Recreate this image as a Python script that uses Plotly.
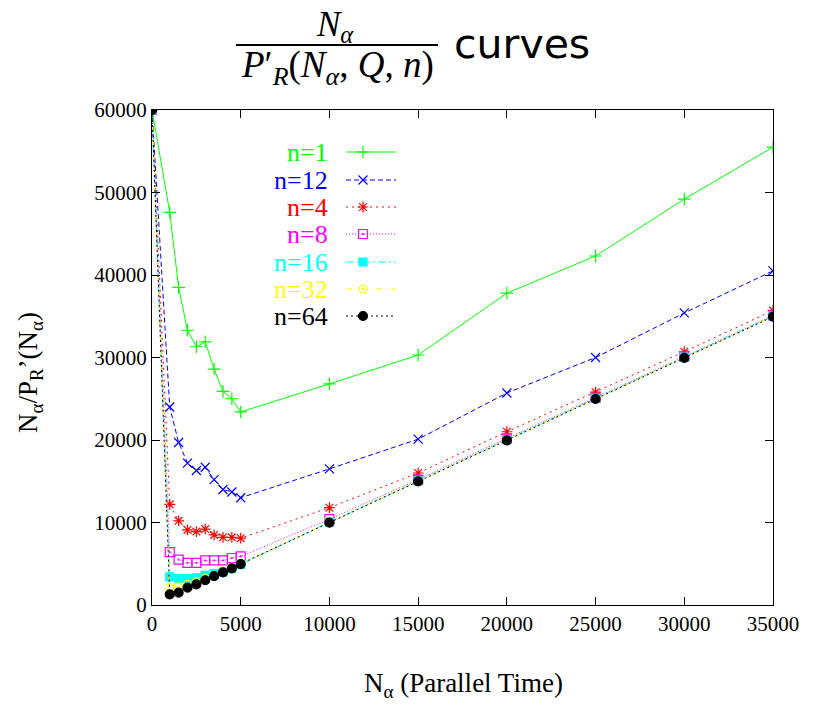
import plotly.graph_objects as go

# ---------------- data ----------------
N_alpha = [1, 1000, 1500, 2000, 2500, 3000, 3500, 4000, 4500, 5000,
           10000, 15000, 20000, 25000, 30000, 35000]
n1 = [60000, 47600, 38500, 33300, 31300, 31900, 28600, 25900, 25000, 23400,
      26800, 30300, 37800, 42300, 49200, 55500]
n12 = [60000, 24000, 19700, 17200, 16300, 16700, 15200, 14000, 13700, 13000,
       16500, 20100, 25700, 30000, 35400, 40500]
n4 = [60000, 12200, 10200, 9100, 8900, 9200, 8500, 8200, 8200, 8100,
      11800, 16000, 21000, 25800, 30700, 35700]
n8 = [60000, 6400, 5500, 5100, 5100, 5400, 5400, 5400, 5700, 5900,
      10400, 15200, 20200, 25100, 30100, 35100]
n16 = [60000, 3400, 3200, 3200, 3300, 3600, 3800, 4000, 4400, 4900,
       10050, 15050, 20050, 25050, 30050, 35050]
n32 = [60000, 2100, 2200, 2500, 2800, 3200, 3600, 4100, 4600, 5000,
       10000, 15000, 20000, 25000, 30000, 35000]
n64 = [60000, 1300, 1500, 2100, 2500, 3000, 3500, 3950, 4450, 4950,
       9980, 14980, 19950, 24970, 29950, 34950]

series_names = ["n=1", "n=12", "n=4", "n=8", "n=16", "n=32", "n=64"]
series_values = [n1, n12, n4, n8, n16, n32, n64]
x_ticks = [0, 5000, 10000, 15000, 20000, 25000, 30000, 35000]
y_ticks = [0, 10000, 20000, 30000, 40000, 50000, 60000]

# ---------------- styles ----------------
colors = ["#00ff00", "#0000ff", "#ff0000", "#ff00ff", "#00ffff", "#ffff00", "#000000"]
dashes = ["solid", "5px,3px", "2px,4px", "1px,2px", "8px,3px,2px,3px",
          "6px,4px,1px,4px", "2px,3px"]
symbols = ["cross-thin-open", "x-thin-open", "asterisk-open", "square-open-dot",
           "square", "circle-open-dot", "circle"]
msizes = [9, 9, 9, 9, 8, 8, 9]

W, H = 822, 706
OFF = 8                            # page body margin
L, R, T, B = 152, 773, 110, 605    # plot area in page pixels
FW, FH = W - 2 * OFF, H - 2 * OFF  # figure size

serif = "Liberation Serif, serif"

def px(x):
    return (x - L) / (R - L)

def py(y):
    return (B - y) / (B - T)

fig = go.Figure()
for name, vals, c, d, s, ms in zip(series_names, series_values, colors, dashes, symbols, msizes):
    fig.add_trace(go.Scatter(
        x=N_alpha, y=vals, mode="lines+markers", name=name, showlegend=False,
        line=dict(color=c, width=1, dash=d),
        marker=dict(symbol=s, size=ms, color=c, line=dict(color=c, width=1.2)),
        xaxis="x", yaxis="y"))

# ---------------- legend (gnuplot style: text left, sample right) ----------------
leg_rows = [152, 180, 207, 234, 262, 289, 316]
for name, c, d, s, ms, yy in zip(series_names, colors, dashes, symbols, msizes, leg_rows):
    fig.add_trace(go.Scatter(x=[346, 396], y=[yy, yy], mode="lines", showlegend=False,
                             line=dict(color=c, width=1, dash=d), xaxis="x2", yaxis="y2",
                             hoverinfo="skip"))
    fig.add_trace(go.Scatter(x=[363], y=[yy], mode="markers", showlegend=False,
                             marker=dict(symbol=s, size=ms, color=c, line=dict(color=c, width=1.2)),
                             xaxis="x2", yaxis="y2", hoverinfo="skip"))
    fig.add_annotation(x=330, y=yy, xref="x2", yref="y2", text=name, showarrow=False,
                       xanchor="right", yanchor="middle",
                       font=dict(family=serif, size=26, color=c))

fig.update_layout(
    width=FW, height=FH,
    margin=dict(l=L - OFF, r=(W - OFF) - R, t=T - OFF, b=(H - OFF) - B),
    paper_bgcolor="white", plot_bgcolor="white",
    font=dict(family=serif, size=20, color="black"),
    xaxis=dict(range=[0, 35000], tickvals=x_ticks, ticktext=[str(v) for v in x_ticks],
               showgrid=False, zeroline=False, showline=True, linecolor="black", linewidth=1,
               mirror="allticks", ticks="inside", ticklen=8, tickcolor="black",
               tickfont=dict(family=serif, size=21)),
    yaxis=dict(range=[0, 60000], tickvals=y_ticks, ticktext=[str(v) for v in y_ticks],
               showgrid=False, zeroline=False, showline=True, linecolor="black", linewidth=1,
               mirror="allticks", ticks="inside", ticklen=8, tickcolor="black",
               tickfont=dict(family=serif, size=21)),
    xaxis2=dict(range=[L, R], overlaying="x", visible=False, domain=[0, 1], anchor="y2"),
    yaxis2=dict(range=[B, T], overlaying="y", visible=False, domain=[0, 1], anchor="x2"),
    showlegend=False,
)

# ---------------- axis titles ----------------
fig.add_annotation(x=px(463), y=py(685), xref="paper", yref="paper",
                   text="N<sub>α</sub> (Parallel Time)", showarrow=False,
                   xanchor="center", yanchor="middle", font=dict(family=serif, size=27))
fig.add_annotation(x=px(30), y=py(372), xref="paper", yref="paper",
                   text="N<sub>α</sub>/P<sub>R</sub>’(N<sub>α</sub>)", showarrow=False,
                   textangle=-90, xanchor="center", yanchor="middle",
                   font=dict(family=serif, size=27))

# ---------------- title: fraction + "curves" ----------------
fig.add_annotation(x=px(335), y=py(26), xref="paper", yref="paper",
                   text="<i>N</i><sub><i>α</i></sub>", showarrow=False,
                   xanchor="center", yanchor="middle", font=dict(family=serif, size=35))
fig.add_shape(type="line", xref="paper", yref="paper",
              x0=px(236), x1=px(438), y0=py(45), y1=py(45),
              line=dict(color="black", width=2))
fig.add_annotation(x=px(337), y=py(68), xref="paper", yref="paper",
                   text="<i>P</i>′<sub><i>R</i></sub>(<i>N</i><sub><i>α</i></sub>, <i>Q</i>, <i>n</i>)",
                   showarrow=False, xanchor="center", yanchor="middle",
                   font=dict(family=serif, size=37))
fig.add_annotation(x=px(522), y=py(44), xref="paper", yref="paper",
                   text="curves", showarrow=False, xanchor="center", yanchor="middle",
                   font=dict(family="DejaVu Sans", size=41))

fig.write_html("out.html")
